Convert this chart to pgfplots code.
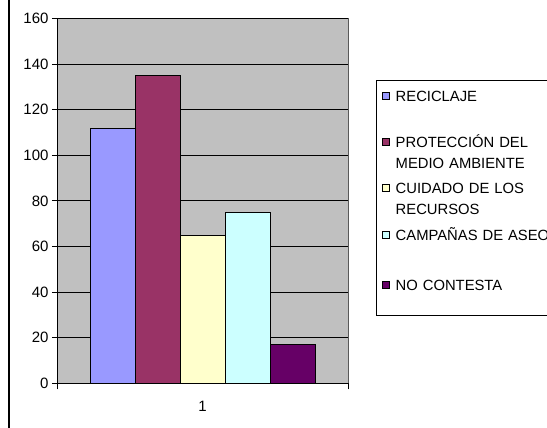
\documentclass[border=0pt]{standalone}
\usepackage{pgfplots}
\pgfplotsset{compat=1.18}
\usepackage{fontspec}
\setmainfont{Liberation Sans}

\definecolor{reci}{HTML}{9999FF}
\definecolor{prot}{HTML}{993366}
\definecolor{cuid}{HTML}{FFFFCC}
\definecolor{camp}{HTML}{CCFFFF}
\definecolor{noco}{HTML}{660066}
\definecolor{plotbg}{HTML}{C0C0C0}

\begin{document}
\begin{tikzpicture}
\useasboundingbox (0,0) rectangle (547bp,428bp);
\clip (0,0) rectangle (547bp,428bp);
\fill[white] (0,0) rectangle (547bp,428bp);
\draw[line width=1.5bp] (9bp,0) -- (9bp,428bp);
\begin{axis}[%
    at={(57bp,44.7bp)}, anchor=south west,
    width=291bp, height=364.8bp, scale only axis,
    axis background/.style={fill=plotbg},
    ybar=0pt, bar width=45bp,
    xmin=0.5, xmax=1.5,
    ymin=0, ymax=160,
    ytick={0,20,...,160},
    xtick={1}, xticklabels={1},
    major x tick style={draw=none},
    extra x ticks={0.5,1.5}, extra x tick labels={},
    extra x tick style={major tick length=6bp, tick align=outside,
        major x tick style={draw=black}},
    axis x line*=bottom, axis y line*=left,
    axis line style={black, line width=0.8bp},
    tick align=outside, major tick length=5bp,
    tick style={black, line width=0.8bp},
    ymajorgrids, grid style={black, line width=0.8bp},
    /pgf/number format/assume math mode=true,
    ticklabel style={font=\fontsize{15bp}{17bp}\selectfont},
    xticklabel style={yshift=-9bp},
    after end axis/.code={\draw[gray!70!black, line width=0.8bp] (rel axis cs:1,0) -- (rel axis cs:1,1);},
    legend image code/.code={\draw[#1, line width=0.6bp] (0bp,2.3bp) rectangle (7bp,9.3bp);},
    legend cell align=left,
    legend style={at={(1.0962,0.8314)}, anchor=north west,
        draw=black, line width=0.8bp, fill=white,
        inner xsep=6bp, inner ysep=11bp,
        row sep=0pt, column sep=5.7bp,
        cells={anchor=base west},
        nodes={inner sep=0pt, text width=200bp, align=left, text height=10bp,
            font=\fontsize{14.8bp}{21bp}\selectfont}},
]
\addplot[fill=reci, draw=black, line width=0.6bp] coordinates {(1,112)};
\addlegendentry[text depth=35.7bp]{RECICLAJE}
\addplot[fill=prot, draw=black, line width=0.6bp] coordinates {(1,135)};
\addlegendentry[text depth=36.6bp]{PROTECCIÓN DEL\\MEDIO AMBIENTE}
\addplot[fill=cuid, draw=black, line width=0.6bp] coordinates {(1,65)};
\addlegendentry[text depth=37.2bp]{CUIDADO DE LOS\\RECURSOS}
\addplot[fill=camp, draw=black, line width=0.6bp] coordinates {(1,75)};
\addlegendentry[text depth=39.5bp]{CAMPAÑAS DE ASEO}
\addplot[fill=noco, draw=black, line width=0.6bp] coordinates {(1,17)};
\addlegendentry[text depth=14bp]{NO CONTESTA}
\end{axis}
\end{tikzpicture}
\end{document}
